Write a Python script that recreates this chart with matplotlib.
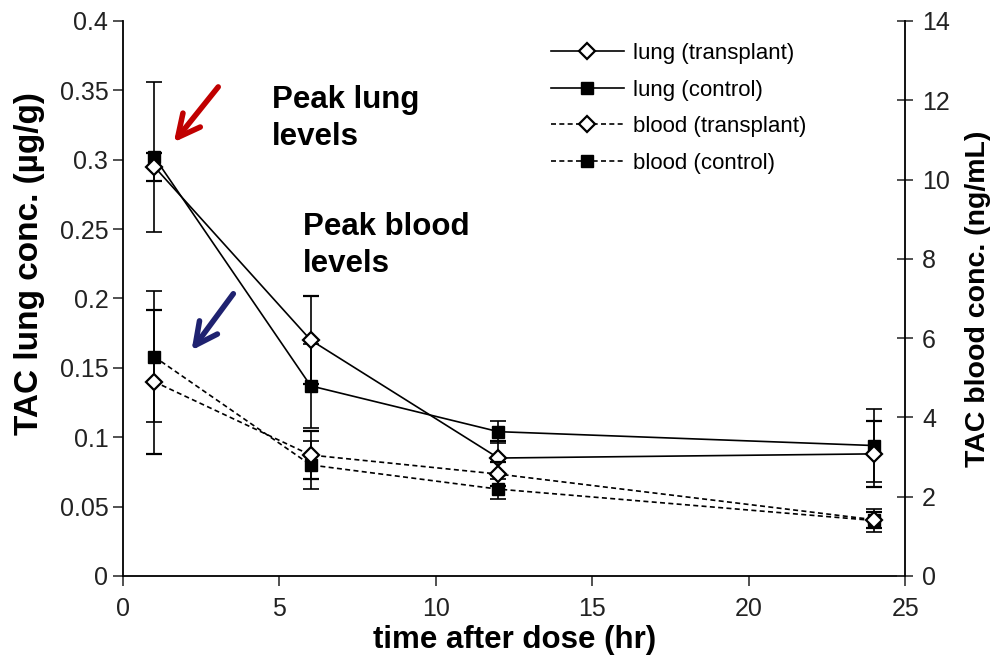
import matplotlib.pyplot as plt
from matplotlib.lines import Line2D

plt.rcParams['font.family'] = ['Liberation Sans', 'DejaVu Sans']

# time points (hr)
time = [1, 6, 12, 24]

# lung concentrations (ug/g), left axis
lung_tx = [0.295, 0.170, 0.085, 0.088]
lung_tx_err = [0.010, 0.032, 0.012, 0.024]
lung_ctrl = [0.302, 0.137, 0.104, 0.094]
lung_ctrl_err = [0.054, 0.030, 0.008, 0.026]

# blood concentrations (ng/mL), right axis
blood_tx = [4.90, 3.05, 2.57, 1.42]
blood_tx_err = [1.82, 0.60, 0.30, 0.20]
blood_ctrl = [5.53, 2.80, 2.19, 1.40]
blood_ctrl_err = [1.65, 0.60, 0.25, 0.30]

labels = ['lung (transplant)', 'lung (control)', 'blood (transplant)', 'blood (control)']

fig = plt.figure(figsize=(9.94, 6.6), dpi=100)
ax = fig.add_axes([0.1237, 0.1273, 0.787, 0.841])
ax2 = ax.twinx()

dash = (0, (3, 2))
common = dict(color='black', lw=1.2, capsize=6, elinewidth=1.2, capthick=1.2)

ax.errorbar(time, lung_ctrl, yerr=lung_ctrl_err, marker='s', ms=9, mfc='black', mec='black', ls='-', **common)
ax.errorbar(time, lung_tx, yerr=lung_tx_err, marker='D', ms=8, mfc='white', mec='black', mew=1.6, ls='-', **common)
ax2.errorbar(time, blood_ctrl, yerr=blood_ctrl_err, marker='s', ms=9, mfc='black', mec='black', ls=dash, **common)
ax2.errorbar(time, blood_tx, yerr=blood_tx_err, marker='D', ms=8, mfc='white', mec='black', mew=1.6, ls=dash, **common)

ax.set_xlim(0, 25)
ax.set_ylim(0, 0.4)
ax2.set_ylim(0, 14)
ax.set_xticks([0, 5, 10, 15, 20, 25])
ax.set_yticks([0, 0.05, 0.1, 0.15, 0.2, 0.25, 0.3, 0.35, 0.4])
ax.set_yticklabels(['0', '0.05', '0.1', '0.15', '0.2', '0.25', '0.3', '0.35', '0.4'])
ax2.set_yticks(range(0, 15, 2))

for a in (ax, ax2):
    a.spines['top'].set_visible(False)
ax.spines['right'].set_visible(False)
ax2.spines['left'].set_visible(False)
ax2.spines['bottom'].set_visible(False)
for sp in ('left', 'bottom'):
    ax.spines[sp].set_linewidth(1.3)
ax2.spines['right'].set_linewidth(1.3)

ax.tick_params(axis='both', labelsize=18, length=7, width=1.2, color='#333333', labelcolor='#222222')
ax.tick_params(axis='x', pad=8)
ax2.tick_params(axis='y', labelsize=18, length=12, width=1.2, direction='inout', color='#333333', labelcolor='#222222', pad=6)

ax.set_xlabel('time after dose (hr)', fontsize=22.5, fontweight='bold', labelpad=3)
ax.set_ylabel('TAC lung conc. (\u00b5g/g)', fontsize=24, fontweight='bold')
ax.yaxis.set_label_coords(-0.1, 0.562)
ax2.set_ylabel('TAC blood conc. (ng/mL)', fontsize=20.5, fontweight='bold', labelpad=11)

# legend
handles = [
    Line2D([], [], color='black', lw=1.2, ls='-', marker='D', mfc='white', mec='black', mew=1.6, ms=8),
    Line2D([], [], color='black', lw=1.2, ls='-', marker='s', mfc='black', mec='black', ms=9),
    Line2D([], [], color='black', lw=1.2, ls=dash, marker='D', mfc='white', mec='black', mew=1.6, ms=8),
    Line2D([], [], color='black', lw=1.2, ls=dash, marker='s', mfc='black', mec='black', ms=9),
]
ax.legend(handles, labels, loc='upper right', bbox_to_anchor=(0.899, 0.996), frameon=False,
          fontsize=16, handlelength=3.3, handletextpad=0.4, labelspacing=0.7)

# annotations
ax.annotate('', xy=(1.57, 0.311), xytext=(3.10, 0.354),
            arrowprops=dict(arrowstyle='->', lw=4, color='#c00000', mutation_scale=40))
ax.annotate('', xy=(2.14, 0.161), xytext=(3.58, 0.205),
            arrowprops=dict(arrowstyle='->', lw=4, color='#1f2270', mutation_scale=40))
ax.text(4.76, 0.354, 'Peak lung\nlevels', fontsize=22.5, fontweight='bold', va='top', linespacing=1.3)
ax.text(5.75, 0.262, 'Peak blood\nlevels', fontsize=22.5, fontweight='bold', va='top', linespacing=1.3)

fig.savefig('out.png', dpi=100)
